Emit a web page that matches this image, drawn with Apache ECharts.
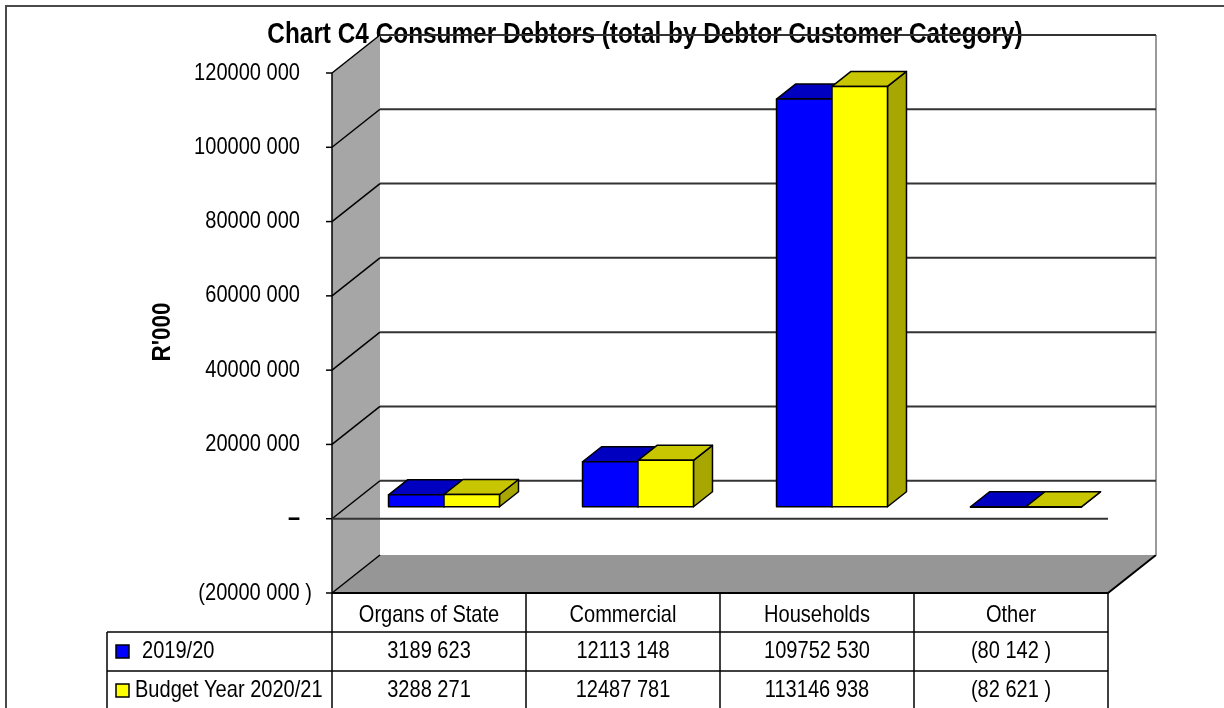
<!DOCTYPE html>
<html>
<head>
<meta charset="utf-8">
<script src="https://cdn.jsdelivr.net/npm/echarts@6/dist/echarts.min.js"></script>
<style>
html, body { margin: 0; padding: 0; background: #fff; }
#chart { width: 1224px; height: 708px; }
</style>
</head>
<body>
<div id="chart"></div>
<script>
// data
var categories = ['Organs of State', 'Commercial', 'Households', 'Other'];
var seriesNames = ['2019/20', 'Budget Year 2020/21'];
var values2019 = [3189623, 12113148, 109752530, -80142];
var valuesBudget = [3288271, 12487781, 113146938, -82621];
var yTicks = [-20000000, 0, 20000000, 40000000, 60000000, 80000000, 100000000, 120000000];

// narrow look: Liberation Sans squeezed horizontally (no Arial Narrow here)
var FONT = "'Liberation Sans', Arial, sans-serif";
var SQUEEZE = 0.835;
var WALL_DEPTH = [48, -38];   // back wall offset from the front plane
var BAR_SHIFT = [15, -12];    // bars stand a bit behind the front plane
var BAR_DEPTH = [19, -15];
var faceColors = [
    { front: '#0000ff', top: '#0000c0', side: '#00009a' },
    { front: '#ffff00', top: '#c8c600', side: '#a8a600' }
];

function fmt(v) {
    var a = Math.abs(Math.round(v));
    var s = a >= 1000 ? Math.floor(a / 1000) + ' ' + String(a % 1000).padStart(3, '0') : String(a);
    return v < 0 ? '(' + s + ' )' : s;
}

function line(x1, y1, x2, y2, color, width) {
    return { type: 'line', shape: { x1: x1, y1: y1, x2: x2, y2: y2 },
        style: { stroke: color || '#000', lineWidth: width || 1.5 } };
}

function txt(s, x, y, align, font) {
    return { type: 'text', x: x, y: y, scaleX: SQUEEZE,
        style: { text: s, fill: '#000', font: font || ('24px ' + FONT), align: align || 'center', verticalAlign: 'middle' } };
}

function renderWalls(params, api) {
    var cs = params.coordSys;
    var L = cs.x, R = cs.x + cs.width;
    var dx = WALL_DEPTH[0], dy = WALL_DEPTH[1];
    var yMax = api.coord([0, yTicks[yTicks.length - 1]])[1];
    var yMin = api.coord([0, yTicks[0]])[1];
    var y0 = api.coord([0, 0])[1];
    var ch = [];
    // side wall
    ch.push({ type: 'polygon', shape: { points: [[L, yMax], [L + dx, yMax + dy], [L + dx, yMin + dy], [L, yMin]] },
        style: { fill: '#a6a6a6' } });
    // floor
    ch.push({ type: 'polygon', shape: { points: [[L, yMin], [L + dx, yMin + dy], [R + dx, yMin + dy], [R, yMin]] },
        style: { fill: '#969696' } });
    ch.push({ type: 'polyline', shape: { points: [[L, yMin], [R, yMin], [R + dx, yMin + dy]] },
        style: { stroke: '#000', lineWidth: 2, fill: null } });
    // back wall right edge
    ch.push(line(R + dx, yMax + dy, R + dx, yMin + dy, '#9a9a9a', 2));
    yTicks.forEach(function (t, k) {
        var y = api.coord([0, t])[1];
        ch.push(line(L, y, L + dx, y + dy, '#000', 1.5));
        if (k > 0) ch.push(line(L + dx, y + dy, R + dx, y + dy, '#333', 2));
        ch.push(line(L - 6, y, L, y, '#000', 1.5));
        if (t === 0) ch.push(txt('–', L - 32, y, 'right', 'bold 26px ' + FONT));
        else ch.push(txt(fmt(t), t < 0 ? L - 20 : L - 32, y, 'right'));
    });
    ch.push(line(L, yMax, L, yMin, '#000', 1.5));
    // category axis at zero, front plane
    ch.push(line(L, y0, R, y0, '#333', 2));
    // axis name
    ch.push({ type: 'text', x: 163, y: (yMax + yMin) / 2 - 1, rotation: Math.PI / 2, scaleX: 0.86,
        style: { text: "R'000", fill: '#000', font: 'bold 26px ' + FONT, align: 'center', verticalAlign: 'middle' } });
    return { type: 'group', children: ch };
}

function makeBarRender(k) {
    return function (params, api) {
        var i = api.value(0), v = api.value(1);
        var base = api.coord([i, 0]), top = api.coord([i, v]);
        var band = api.size([1, 0])[0];
        var w = band * 0.286;
        var x0 = base[0] + BAR_SHIFT[0] - w + k * w, x1 = x0 + w;
        var yA = Math.min(base[1], top[1]) + BAR_SHIFT[1];
        var yB = Math.max(base[1], top[1]) + BAR_SHIFT[1];
        var dx = BAR_DEPTH[0], dy = BAR_DEPTH[1];
        var c = faceColors[k];
        function st(fill) { return { fill: fill, stroke: '#000', lineWidth: 1.5, lineJoin: 'round' }; }
        return { type: 'group', children: [
            { type: 'polygon', shape: { points: [[x1, yA], [x1 + dx, yA + dy], [x1 + dx, yB + dy], [x1, yB]] }, style: st(c.side) },
            { type: 'polygon', shape: { points: [[x0, yA], [x0 + dx, yA + dy], [x1 + dx, yA + dy], [x1, yA]] }, style: st(c.top) },
            { type: 'rect', shape: { x: x0, y: yA, width: w, height: Math.max(yB - yA, 0.5) }, style: st(c.front) }
        ] };
    };
}

function renderTable(params, api) {
    var i = api.value(0);
    var cs = params.coordSys;
    var cx = api.coord([i, 0])[0];
    var band = api.size([1, 0])[0];
    var xl = cx - band / 2, xr = cx + band / 2;
    var yT = cs.y + cs.height;
    var rowH = 39;
    var yEnd = yT + rowH * 3 + 4;
    var ch = [];
    ch.push(line(xl, yT, xl, yEnd, '#000', 1.5));
    if (i === categories.length - 1) ch.push(line(xr, yT, xr, yEnd, '#000', 1.5));
    ch.push(line(xl, yT + rowH, xr, yT + rowH, '#000', 1.5));
    ch.push(line(xl, yT + rowH * 2, xr, yT + rowH * 2, '#000', 1.5));
    ch.push(txt(categories[i], cx, yT + rowH / 2 + 3));
    ch.push(txt(fmt(values2019[i]), cx, yT + rowH * 1.5));
    ch.push(txt(fmt(valuesBudget[i]), cx, yT + rowH * 2.5));
    if (i === 0) {
        var lx = 107;
        ch.push(line(lx, yT + rowH, lx, yEnd, '#000', 1.5));
        ch.push(line(lx, yT + rowH, xl, yT + rowH, '#000', 1.5));
        ch.push(line(lx, yT + rowH * 2, xl, yT + rowH * 2, '#000', 1.5));
        seriesNames.forEach(function (name, k) {
            var yc = yT + rowH * (1.5 + k);
            ch.push({ type: 'rect', shape: { x: lx + 9, y: yc - 6.5, width: 13, height: 13 },
                style: { fill: faceColors[k].front, stroke: '#000', lineWidth: 1.5 } });
            ch.push(txt(name, lx + (k === 0 ? 35 : 28), yc, 'left'));
        });
    }
    return { type: 'group', children: ch };
}

var chart = echarts.init(document.getElementById('chart'));
chart.setOption({
    backgroundColor: '#fff',
    animation: false,
    graphic: [{
        type: 'text', x: 645, y: 35, scaleX: 0.84, z: 1, silent: true,
        style: { text: 'Chart C4 Consumer Debtors (total by Debtor Customer Category)', fill: '#000',
            font: 'bold 29px ' + FONT, align: 'center', verticalAlign: 'middle' }
    }, {
        type: 'rect', x: 6, y: 6, silent: true, z: 100,
        shape: { width: 1240, height: 720 },
        style: { fill: null, stroke: '#4a4a4a', lineWidth: 2 }
    }],
    grid: { left: 332, right: 116, top: 73, bottom: 115 },
    xAxis: {
        type: 'category', data: categories,
        axisLine: { show: false }, axisTick: { show: false }, axisLabel: { show: false },
        splitLine: { show: false }
    },
    yAxis: {
        type: 'value', min: yTicks[0], max: yTicks[yTicks.length - 1], interval: 20000000,
        axisLine: { show: false }, axisTick: { show: false }, axisLabel: { show: false },
        splitLine: { show: false }
    },
    series: [
        { type: 'custom', name: 'walls', z: 2, silent: true, clip: false, renderItem: renderWalls, data: [[0, 0]], encode: { x: 0, y: 1 } },
        { type: 'custom', name: seriesNames[0], z: 3, renderItem: makeBarRender(0),
          data: values2019.map(function (v, i) { return [i, v]; }), encode: { x: 0, y: 1 } },
        { type: 'custom', name: seriesNames[1], z: 4, renderItem: makeBarRender(1),
          data: valuesBudget.map(function (v, i) { return [i, v]; }), encode: { x: 0, y: 1 } },
        { type: 'custom', name: 'table', z: 5, silent: true, renderItem: renderTable, clip: false,
          data: categories.map(function (c, i) { return [i, 0]; }), encode: { x: 0, y: 1 } }
    ]
});
</script>
</body>
</html>
